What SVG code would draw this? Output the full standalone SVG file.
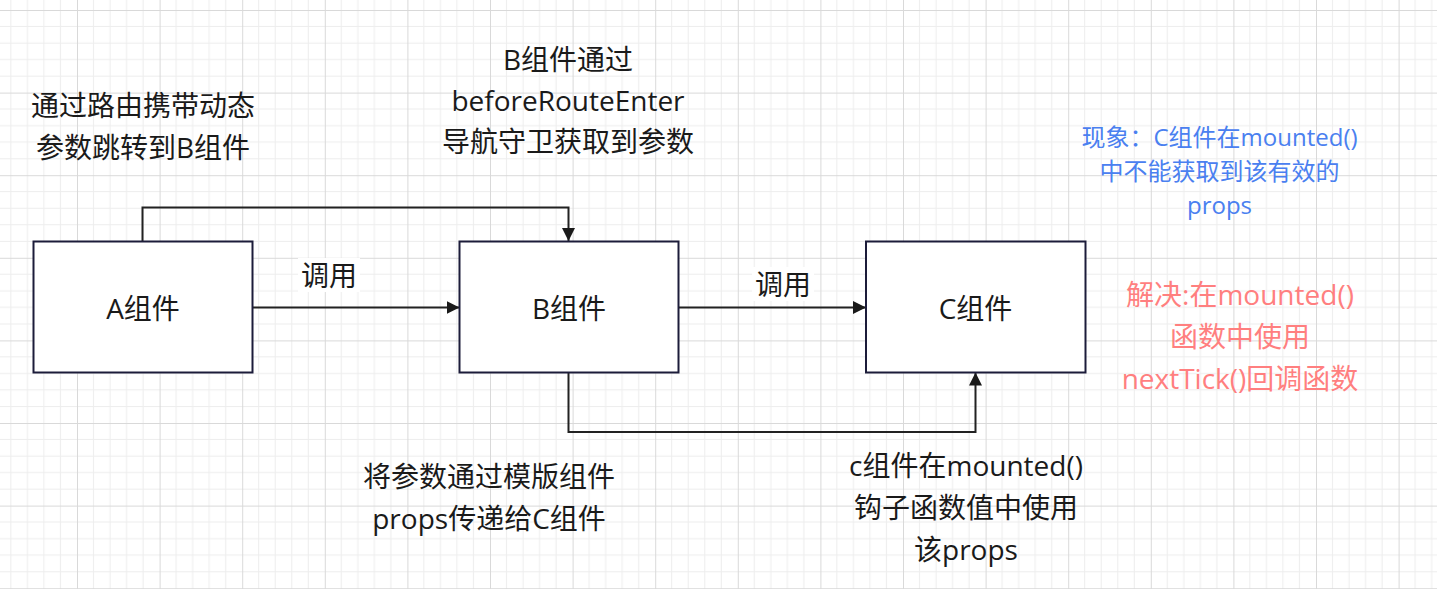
<svg xmlns="http://www.w3.org/2000/svg" width="1437" height="589" viewBox="0 0 1437 589">
<defs>
<pattern id="grid" patternUnits="userSpaceOnUse" x="-5.6" y="10" width="82.6" height="82.6">
<path d="M16.52 0V82.6M33.04 0V82.6M49.56 0V82.6M66.08 0V82.6M0 16.52H82.6M0 33.04H82.6M0 49.56H82.6M0 66.08H82.6" stroke="#ededed" stroke-width="1" fill="none"/>
<path d="M0.5 0V82.6M0 0.5H82.6" stroke="#d9d9d9" stroke-width="1" fill="none"/>
</pattern>
<marker id="arr" markerUnits="userSpaceOnUse" markerWidth="14" markerHeight="14" refX="13" refY="7" orient="auto">
<path d="M0 0.5L13 7L0 13.5Z" fill="#1a1a1a"/>
</marker>
<style>
.box{fill:#ffffff;stroke:#1c1c3a;stroke-width:2}
.con{fill:none;stroke:#222222;stroke-width:2}
text{font-family:"Open Sans","Noto Sans CJK SC",sans-serif;text-anchor:middle}
.t{font-size:28px;fill:#1a1a1a}
.blue{font-size:24px;fill:#4a80f0}
.red{font-size:28px;fill:#ff7f7f}
</style>
</defs>
<rect width="1437" height="589" fill="#ffffff"/>
<rect width="1437" height="589" fill="url(#grid)"/>
<g id="connectors">
<path class="con" d="M142.5 241V207.5H568.5V241" marker-end="url(#arr)"/>
<path class="con" d="M252.5 307.5H459.5" marker-end="url(#arr)"/>
<path class="con" d="M678.5 307.5H866" marker-end="url(#arr)"/>
<path class="con" d="M568.5 372.5V432H975.5V372.5" marker-end="url(#arr)"/>
<rect x="298" y="258" width="62" height="34" fill="#ffffff"/>
<rect x="752" y="267" width="62" height="34" fill="#ffffff"/>
<text class="t" x="329" y="286">调用</text>
<text class="t" x="783" y="295">调用</text>
</g>
<g id="nodeA">
<rect class="box" x="33.5" y="241.5" width="219" height="131"/>
<text class="t" x="143" y="319">A组件</text>
</g>
<g id="nodeB">
<rect class="box" x="459.5" y="241.5" width="219" height="131"/>
<text class="t" x="569" y="319">B组件</text>
</g>
<g id="nodeC">
<rect class="box" x="866" y="241.5" width="219.5" height="131"/>
<text class="t" x="975.5" y="319">C组件</text>
</g>
<g id="labelA">
<text class="t" x="143" y="116">通过路由携带动态</text>
<text class="t" x="143" y="158">参数跳转到B组件</text>
</g>
<g id="labelB">
<text class="t" x="568" y="70">B组件通过</text>
<text class="t" x="568" y="111">beforeRouteEnter</text>
<text class="t" x="568" y="152">导航守卫获取到参数</text>
</g>
<g id="labelProps">
<text class="t" x="489" y="487">将参数通过模版组件</text>
<text class="t" x="489" y="529">props传递给C组件</text>
</g>
<g id="labelC">
<text class="t" x="966" y="476">c组件在mounted()</text>
<text class="t" x="966" y="518">钩子函数值中使用</text>
<text class="t" x="966" y="560">该props</text>
</g>
<g id="phenomenon">
<text class="blue" x="1219.5" y="146">现象：C组件在mounted()</text>
<text class="blue" x="1219.5" y="180">中不能获取到该有效的</text>
<text class="blue" x="1219.5" y="214">props</text>
</g>
<g id="solution">
<text class="red" x="1240" y="305">解决:在mounted()</text>
<text class="red" x="1240" y="347">函数中使用</text>
<text class="red" x="1240" y="389">nextTick()回调函数</text>
</g>
</svg>
